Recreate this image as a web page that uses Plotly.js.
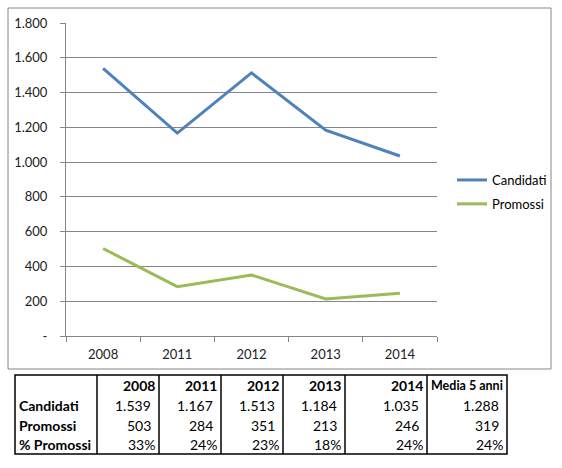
<!DOCTYPE html>
<html>
<head>
<meta charset="utf-8">
<script src="https://cdn.plot.ly/plotly-3.0.1.min.js"></script>
<style>
  body { margin: 0; background: #fff; }
  #chart { width: 562px; height: 468px; }
</style>
</head>
<body>
<div id="chart"></div>
<script>
// Candidati / Promossi per anno

const anni = ['2008', '2011', '2012', '2013', '2014'];
const candidati = [1539, 1167, 1513, 1184, 1035];
const promossi = [503, 284, 351, 213, 246];
const percPromossi = ['33%', '24%', '23%', '18%', '24%'];
const mediaCandidati = 1288;
const mediaPromossi = 319;
const mediaPerc = '24%';

const yTicks = [0, 200, 400, 600, 800, 1000, 1200, 1400, 1600, 1800];

const W = 562, H = 468;
const px = x => x / W;
const py = y => 1 - y / H;

// italian number format: 1.539
function fmt(v) {
    return v.toString().replace(/\B(?=(\d{3})+(?!\d))/g, '.');
}
const yTickText = yTicks.map(v => v === 0 ? '-' : fmt(v));

const FONT = 'Lato, "Liberation Sans", sans-serif';

const traces = [
    {
        x: anni, y: candidati, name: 'Candidati', type: 'scatter', mode: 'lines',
        line: { color: '#4F81BD', width: 3 }, legendgroup: 'a'
    },
    {
        x: anni, y: promossi, name: 'Promossi', type: 'scatter', mode: 'lines',
        line: { color: '#9BBB59', width: 3 }, legendgroup: 'b'
    }
];

// table below the chart
const colEdges = [15, 97, 159, 221, 283, 345, 427, 507];
const rowCenters = [385, 405, 425, 444];
const tableTop = 375, tableBottom = 454;

const shapes = [
    // chart frame
    { type: 'rect', xref: 'paper', yref: 'paper', x0: px(8), x1: px(551), y0: py(369), y1: py(8),
      line: { color: '#868686', width: 1 } },
    // table border
    { type: 'rect', xref: 'paper', yref: 'paper', x0: px(colEdges[0]), x1: px(colEdges[7]),
      y0: py(tableBottom), y1: py(tableTop), line: { color: '#000', width: 1.5 } }
];
for (let i = 1; i < colEdges.length - 1; i++) {
    shapes.push({ type: 'line', xref: 'paper', yref: 'paper', x0: px(colEdges[i]), x1: px(colEdges[i]),
        y0: py(tableBottom), y1: py(tableTop), line: { color: '#000', width: 1.5 } });
}

const annotations = [];
function cell(text, col, row, align, pad, size) {
    const x = align === 'left' ? colEdges[col] + 2 : colEdges[col + 1] - pad;
    annotations.push({
        text: text, xref: 'paper', yref: 'paper', x: px(x), y: py(rowCenters[row]),
        xanchor: align, yanchor: 'middle', showarrow: false,
        font: { family: FONT, size: size || 14, color: '#000' }
    });
}

const header = anni.concat(['Media 5 anni']);
header.forEach((h, i) => cell('<b>' + h + '</b>', i + 1, 0, 'right', 2, i === 5 ? 12.5 : 14));
cell('<b>Candidati</b>', 0, 1, 'left');
cell('<b>Promossi</b>', 0, 2, 'left');
cell('<b>% Promossi</b>', 0, 3, 'left');
candidati.concat([mediaCandidati]).forEach((v, i) => cell(fmt(v), i + 1, 1, 'right', 6));
promossi.concat([mediaPromossi]).forEach((v, i) => cell(fmt(v), i + 1, 2, 'right', 6));
percPromossi.concat([mediaPerc]).forEach((v, i) => cell(v, i + 1, 3, 'right', 2));

const layout = {
    width: W, height: H,
    margin: { l: 0, r: 0, t: 0, b: 0 },
    paper_bgcolor: '#fff', plot_bgcolor: '#fff',
    font: { family: FONT, size: 13, color: '#222' },
    showlegend: true,
    legend: {
        x: px(452), y: py(165), xanchor: 'left', yanchor: 'top',
        font: { family: FONT, size: 13, color: '#000' },
        traceorder: 'grouped', tracegroupgap: 4, itemwidth: 30,
        bgcolor: 'rgba(0,0,0,0)'
    },
    xaxis: {
        domain: [px(66), px(437)],
        type: 'category', range: [-0.5, 4.5],
        showgrid: false, showline: true, linecolor: '#868686', linewidth: 1,
        ticks: 'outside', tickson: 'boundaries', ticklen: 5, tickcolor: '#868686',
        ticklabelstandoff: 6,
        tickfont: { family: FONT, size: 13, color: '#222' },
        fixedrange: true
    },
    yaxis: {
        domain: [py(336), py(23)],
        range: [0, 1800],
        tickvals: yTicks, ticktext: yTickText,
        showgrid: true, gridcolor: '#868686', gridwidth: 1,
        showline: true, linecolor: '#868686', linewidth: 1,
        ticks: 'outside', ticklen: 5, tickcolor: '#868686',
        ticklabelstandoff: 10,
        tickfont: { family: FONT, size: 13, color: '#222' },
        zeroline: false, fixedrange: true
    },
    shapes: shapes,
    annotations: annotations
};

Plotly.newPlot('chart', traces, layout, { displayModeBar: false, staticPlot: true });
</script>
</body>
</html>
